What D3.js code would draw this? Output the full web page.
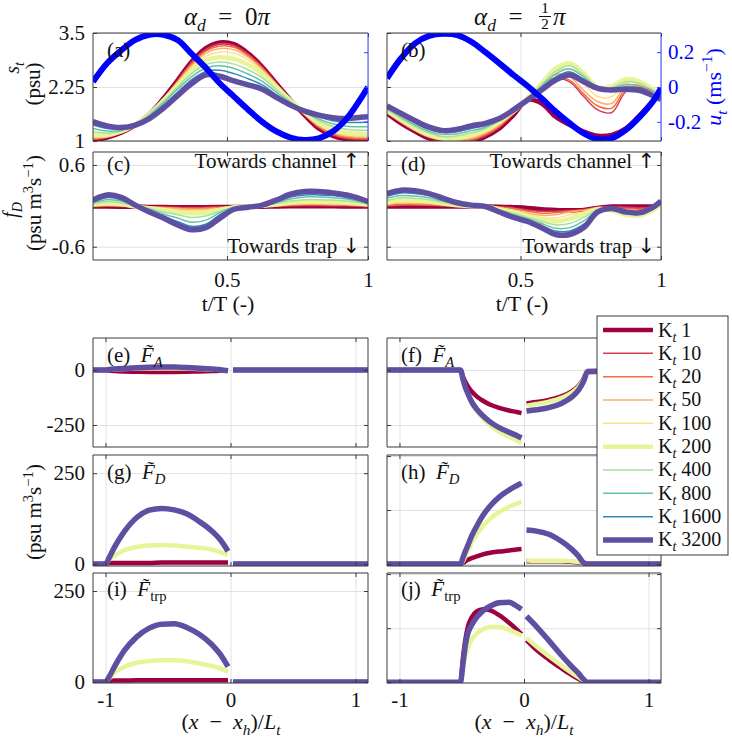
<!DOCTYPE html>
<html><head><meta charset="utf-8">
<script src="https://cdn.jsdelivr.net/npm/d3@7"></script>
<style>body{margin:0;background:#fff;} svg{display:block;}</style>
</head><body>
<svg id="chart" width="732" height="740"></svg>
<script>
// ---------------- DATA ----------------
const tGrid = [0.025,0.075,0.125,0.175,0.225,0.275,0.325,0.375,0.425,0.475,0.525,0.575,0.625,0.675,0.725,0.775,0.825,0.875,0.925,0.975,1.0];
const kLabels = ["1","10","20","50","100","200","400","800","1600","3200"];
const kColors = ["#9e0142","#d53e4f","#f46d43","#fdae61","#fee08b","#e6f598","#abdda4","#66c2a5","#3288bd","#5e4fa2"];
const kWidths = [4.5,1.5,1.5,1.5,1.5,4.5,1.5,1.5,1.5,5.5];

// u_t (m/s), right axis of (a) and (b)
const uA = [0.03,0.136,0.21,0.27,0.30,0.30,0.27,0.19,0.11,0.02,-0.055,-0.13,-0.20,-0.255,-0.29,-0.304,-0.295,-0.256,-0.18,-0.065,0.0];
const uB = [0.05,0.165,0.251,0.293,0.305,0.298,0.26,0.20,0.136,0.069,0.006,-0.065,-0.141,-0.208,-0.266,-0.30,-0.294,-0.246,-0.17,-0.074,-0.007];

// s_t (psu), panel (a)
const sA_K1    = [1.02,1.08,1.19,1.37,1.62,1.99,2.41,2.84,3.15,3.28,3.24,3.03,2.72,2.33,1.95,1.60,1.29,1.12,1.04,1.02,1.02];
const sA_K10   = [1.03,1.08,1.19,1.37,1.62,1.98,2.40,2.82,3.12,3.25,3.21,3.01,2.71,2.33,1.95,1.61,1.31,1.14,1.06,1.04,1.04];
const sA_K20   = [1.05,1.09,1.20,1.37,1.62,1.97,2.38,2.79,3.08,3.20,3.17,2.98,2.69,2.32,1.95,1.62,1.33,1.16,1.08,1.06,1.06];
const sA_K50   = [1.07,1.10,1.20,1.38,1.62,1.96,2.36,2.75,3.03,3.14,3.11,2.94,2.66,2.31,1.95,1.63,1.35,1.19,1.11,1.09,1.09];
const sA_K100  = [1.10,1.12,1.21,1.38,1.62,1.95,2.33,2.70,2.96,3.06,3.03,2.88,2.62,2.29,1.95,1.64,1.38,1.22,1.14,1.12,1.12];
const sA_K200  = [1.14,1.14,1.22,1.38,1.62,1.94,2.29,2.63,2.87,2.94,2.90,2.77,2.55,2.25,1.94,1.66,1.42,1.27,1.19,1.17,1.17];
const sA_K400  = [1.22,1.18,1.23,1.38,1.62,1.92,2.25,2.56,2.77,2.83,2.78,2.65,2.46,2.19,1.92,1.68,1.47,1.34,1.27,1.25,1.25];
const sA_K800  = [1.29,1.23,1.25,1.37,1.59,1.88,2.20,2.49,2.69,2.74,2.68,2.55,2.38,2.13,1.89,1.68,1.51,1.40,1.34,1.33,1.33];
const sA_K1600 = [1.37,1.29,1.28,1.37,1.56,1.83,2.13,2.42,2.61,2.64,2.56,2.44,2.30,2.07,1.86,1.69,1.56,1.47,1.43,1.43,1.44];
const sA_K3200 = [1.45,1.35,1.31,1.37,1.52,1.76,2.05,2.33,2.53,2.50,2.39,2.30,2.20,2.01,1.83,1.69,1.60,1.54,1.52,1.55,1.56];

// s_t (psu), panel (b)
const sB_K1    = [1.64,1.41,1.22,1.06,0.98,0.96,0.98,1.10,1.29,1.60,1.95,1.87,1.56,1.37,1.22,1.12,1.14,1.29,1.60,1.95,2.10];
const sB_K10   = [1.65,1.42,1.23,1.08,1.00,0.98,1.01,1.12,1.32,1.63,1.96,2.24,2.44,2.37,2.03,1.72,1.66,2.14,2.24,2.14,2.09];
const sB_K20   = [1.66,1.44,1.25,1.09,1.02,1.00,1.03,1.15,1.34,1.64,1.97,2.26,2.47,2.41,2.09,1.81,1.76,2.20,2.27,2.15,2.09];
const sB_K50   = [1.68,1.46,1.26,1.11,1.03,1.02,1.06,1.18,1.37,1.66,1.98,2.28,2.54,2.49,2.17,1.91,1.87,2.27,2.30,2.17,2.08];
const sB_K100  = [1.69,1.47,1.28,1.12,1.05,1.04,1.10,1.22,1.41,1.67,1.99,2.31,2.61,2.64,2.33,2.03,2.03,2.35,2.33,2.17,2.07];
const sB_K200  = [1.70,1.49,1.29,1.14,1.06,1.06,1.14,1.25,1.45,1.68,1.99,2.33,2.68,2.80,2.57,2.24,2.27,2.43,2.37,2.18,2.06];
const sB_K400  = [1.73,1.52,1.33,1.19,1.10,1.12,1.19,1.29,1.47,1.69,1.98,2.30,2.61,2.74,2.53,2.24,2.24,2.37,2.33,2.15,2.04];
const sB_K800  = [1.75,1.56,1.37,1.22,1.15,1.17,1.24,1.32,1.49,1.69,1.97,2.27,2.55,2.67,2.48,2.23,2.22,2.31,2.27,2.15,2.01];
const sB_K1600 = [1.78,1.60,1.42,1.27,1.20,1.22,1.29,1.36,1.50,1.71,1.96,2.23,2.48,2.60,2.43,2.23,2.20,2.25,2.22,2.07,1.99];
const sB_K3200 = [1.81,1.64,1.47,1.32,1.24,1.27,1.35,1.41,1.52,1.72,1.95,2.18,2.41,2.53,2.37,2.22,2.18,2.20,2.17,2.04,1.96];

// f_D, panel (c)
const fC_K1    = [-0.01,-0.01,-0.012,-0.014,-0.016,-0.018,-0.02,-0.02,-0.02,-0.018,-0.016,-0.014,-0.012,-0.01,-0.008,-0.006,-0.006,-0.008,-0.01,-0.01,-0.01];
const fC_K10   = [-0.01,-0.005,-0.01,-0.012,-0.015,-0.018,-0.022,-0.025,-0.022,-0.018,-0.014,-0.01,-0.008,-0.005,0.0,0.005,0.005,0.0,0.0,-0.005,-0.01];
const fC_K20   = [-0.005,0.0,-0.005,-0.01,-0.015,-0.02,-0.03,-0.035,-0.03,-0.02,-0.015,-0.01,-0.005,0.0,0.01,0.015,0.015,0.01,0.01,0.0,-0.005];
const fC_K50   = [0.0,0.01,0.0,-0.01,-0.02,-0.03,-0.04,-0.05,-0.045,-0.03,-0.015,-0.01,-0.005,0.005,0.02,0.025,0.025,0.02,0.02,0.01,0.0];
const fC_K100  = [0.01,0.02,0.01,-0.01,-0.025,-0.04,-0.06,-0.07,-0.065,-0.04,-0.02,-0.01,0.0,0.01,0.03,0.04,0.04,0.035,0.03,0.02,0.01];
const fC_K200  = [0.02,0.035,0.025,-0.01,-0.035,-0.06,-0.09,-0.11,-0.10,-0.06,-0.02,-0.01,0.0,0.02,0.045,0.06,0.06,0.055,0.045,0.03,0.02];
const fC_K400  = [0.03,0.06,0.045,-0.005,-0.04,-0.09,-0.13,-0.17,-0.15,-0.08,-0.02,-0.01,0.0,0.035,0.07,0.09,0.09,0.085,0.07,0.045,0.03];
const fC_K800  = [0.045,0.09,0.07,0.0,-0.05,-0.12,-0.18,-0.24,-0.21,-0.10,-0.025,-0.01,0.0,0.05,0.10,0.13,0.13,0.12,0.10,0.06,0.04];
const fC_K1600 = [0.06,0.12,0.09,0.0,-0.07,-0.15,-0.23,-0.30,-0.27,-0.13,-0.03,-0.015,0.005,0.065,0.13,0.16,0.16,0.15,0.12,0.08,0.05];
const fC_K3200 = [0.085,0.16,0.125,0.01,-0.09,-0.18,-0.28,-0.35,-0.32,-0.18,-0.05,-0.02,0.01,0.085,0.17,0.21,0.21,0.19,0.16,0.10,0.06];

// f_D, panel (d)
const fD_K1    = [-0.01,-0.01,-0.01,-0.01,-0.01,-0.01,-0.01,-0.01,-0.012,-0.02,-0.03,-0.05,-0.06,-0.065,-0.06,-0.03,-0.01,-0.01,-0.01,-0.005,0.03];
const fD_K10   = [0.0,0.01,0.01,0.005,0.0,-0.01,-0.01,-0.01,-0.015,-0.03,-0.06,-0.08,-0.08,-0.07,-0.055,-0.02,-0.015,-0.02,-0.03,-0.01,0.03];
const fD_K20   = [0.005,0.02,0.02,0.015,0.005,-0.005,-0.01,-0.01,-0.02,-0.04,-0.08,-0.11,-0.10,-0.075,-0.06,-0.025,-0.02,-0.04,-0.05,-0.02,0.03];
const fD_K50   = [0.015,0.04,0.035,0.03,0.015,0.0,-0.01,-0.01,-0.03,-0.06,-0.11,-0.14,-0.13,-0.09,-0.07,-0.03,-0.04,-0.08,-0.09,-0.03,0.03];
const fD_K100  = [0.03,0.06,0.055,0.045,0.025,0.005,-0.01,-0.01,-0.04,-0.08,-0.13,-0.17,-0.18,-0.13,-0.09,-0.04,-0.06,-0.11,-0.12,-0.04,0.03];
const fD_K200  = [0.05,0.085,0.08,0.065,0.035,0.01,-0.005,-0.01,-0.05,-0.09,-0.15,-0.20,-0.23,-0.19,-0.12,-0.05,-0.07,-0.13,-0.14,-0.05,0.03];
const fD_K400  = [0.08,0.12,0.11,0.09,0.05,0.015,-0.005,-0.01,-0.06,-0.11,-0.17,-0.23,-0.28,-0.26,-0.17,-0.06,-0.06,-0.12,-0.13,-0.04,0.04];
const fD_K800  = [0.11,0.15,0.145,0.12,0.07,0.025,0.0,-0.01,-0.07,-0.13,-0.19,-0.26,-0.33,-0.32,-0.22,-0.07,-0.06,-0.11,-0.12,-0.03,0.05];
const fD_K1600 = [0.14,0.19,0.18,0.15,0.09,0.035,0.005,-0.01,-0.08,-0.15,-0.21,-0.29,-0.37,-0.37,-0.27,-0.08,-0.05,-0.10,-0.11,-0.02,0.06];
const fD_K3200 = [0.18,0.23,0.22,0.18,0.11,0.045,0.01,-0.01,-0.09,-0.17,-0.23,-0.32,-0.42,-0.42,-0.32,-0.09,-0.04,-0.09,-0.10,-0.01,0.07];

// spatial panels: x = (x - x_h)/L_t ; null marks the gap at x = 0
const xLeft  = [-1.1,-1.0,-0.97,-0.93,-0.85,-0.75,-0.65,-0.55,-0.45,-0.35,-0.25,-0.15,-0.08,-0.02,null,0.02,1.1];
const xRight = [-1.1,-0.51,-0.49,-0.47,-0.45,-0.42,-0.38,-0.33,-0.27,-0.2,-0.12,-0.06,-0.02,null,0.02,0.1,0.2,0.3,0.38,0.44,0.48,0.51,1.1];

const eK1    = [0,0,-3,-5,-7,-8,-9,-9,-9,-8,-7,-5,-4,-3,null,0,0];
const eK200  = [0,0,1,2,4,6,7,7,7,6,4,2,0,-3,null,0,0];
const eK3200 = [0,0,2,4,7,10,12,13,13,11,8,4,1,-4,null,0,0];
const gK1    = [0,0,3,3,3,3,3,4,4,4,4,4,4,4,null,0,0];
const gK200  = [0,0,12,22,38,47,51,52,51,48,45,40,33,25,null,0,0];
const gK3200 = [0,0,18,45,89,128,148,153,149,138,117,91,66,35,null,0,0];
const iK1    = [0,0,3,4,4,5,5,5,5,5,5,5,5,5,null,0,0];
const iK200  = [0,0,10,25,42,53,58,60,60,57,51,44,37,28,null,0,0];
const iK3200 = [0,0,15,41,86,124,148,159,160,150,131,103,75,42,null,0,0];

const fK1    = [0,0,-30,-55,-75,-98,-120,-140,-158,-172,-184,-191,-196,null,-152,-146,-136,-120,-98,-70,-38,-5,0];
const fK200  = [0,0,-42,-82,-112,-150,-186,-220,-252,-280,-303,-320,-332,null,-162,-155,-144,-127,-104,-75,-42,-6,0];
const fK3200 = [0,0,-42,-80,-108,-145,-178,-208,-237,-262,-283,-298,-309,null,-187,-181,-171,-152,-125,-90,-50,-8,0];
const hK1    = [0,0,2,5,8,11,14,18,21,23,25,27,28,null,5,5,5,5,4,3,2,0,0];
const hK200  = [0,0,5,15,25,40,55,70,84,96,106,112,115,null,7,6,6,6,5,4,2,0,0];
const hK3200 = [0,0,12,24,35,52,70,90,108,124,137,145,150,null,63,61,55,42,28,14,2,0,0];
const jK1    = [0,0,45,80,103,120,131,135,133,124,110,98,89,null,78,60,42,26,14,6,1,0,0];
const jK200  = [0,0,25,50,65,79,90,98,102,102,97,91,86,null,82,66,48,31,18,9,3,0,0];
const jK3200 = [0,0,35,70,91,106,120,132,141,147,148,141,135,null,122,103,77,50,30,16,5,0,0];

// tick values
const tTicks = [0.5, 1];
const xTicksB = [-1, 0, 1];
const sTicks = [1, 2.25, 3.5];
const uTicks = [-0.2, 0, 0.2];
const fTicks = [-0.6, 0.6];
const faTicks = [-250, 0];
const fdTicks = [0, 250];
const fhTicks = [0, 100, 200];

// ---------------- DRAW ----------------
const FONT = "'Liberation Serif','Times New Roman',serif";
const FS = 21;
const svg = d3.select("#chart");
svg.append("rect").attr("width",732).attr("height",740).attr("fill","#fff");
const defs = svg.append("defs");
const FRAME = "#3a3a3a", GRID = "#e1e1e1", BLUE = "#0000ff";

function rich(parent, x, y, parts, o = {}) {
  const size = o.size || FS;
  const t = parent.append("text").attr("x", x).attr("y", y)
    .attr("font-family", FONT).attr("font-size", size)
    .attr("text-anchor", o.anchor || "start").attr("fill", o.fill || "#111")
    .style("white-space", "pre");
  if (o.rotate) t.attr("transform", `rotate(${o.rotate},${x},${y})`);
  let shift = 0;
  parts.forEach(p => {
    if (typeof p === "string") p = {t: p};
    const s = t.append("tspan").text(p.t);
    const target = p.sub ? size * 0.25 : p.sup ? -size * 0.4 : 0;
    if (p.it) s.attr("font-style", "italic");
    if (p.font) s.attr("font-family", p.font);
    if (p.sub || p.sup) s.attr("font-size", size * 0.7);
    if (target !== shift) { s.attr("dy", target - shift); shift = target; }
  });
  return t;
}

function panel(cfg) {
  const {id, box, xDom, yDom, xTicks, yTicks} = cfg;
  const xs = d3.scaleLinear().domain(xDom).range([box.x0, box.x1]);
  const ys = d3.scaleLinear().domain(yDom).range([box.y1, box.y0]);
  const w = box.x1 - box.x0, h = box.y1 - box.y0;
  const grid = svg.append("g");
  grid.append("g").attr("transform", `translate(0,${box.y1})`)
    .call(d3.axisBottom(xs).tickValues(xTicks).tickSize(-h).tickFormat(""));
  grid.append("g").attr("transform", `translate(${box.x0},0)`)
    .call(d3.axisLeft(ys).tickValues(yTicks).tickSize(-w).tickFormat(""));
  grid.selectAll(".domain").remove();
  grid.selectAll("line").attr("stroke", GRID).attr("stroke-width", 1);
  defs.append("clipPath").attr("id", "clip-" + id).append("rect")
    .attr("x", box.x0).attr("y", box.y0).attr("width", w).attr("height", h);
  const data = svg.append("g").attr("clip-path", `url(#clip-${id})`);
  const frame = svg.append("g");
  const style = (g, col) => {
    g.attr("font-family", FONT).attr("font-size", FS);
    g.select(".domain").remove();
    g.selectAll("line").attr("stroke", col || FRAME);
    g.selectAll("text").attr("fill", "#111");
  };
  frame.append("g").attr("transform", `translate(${box.x0},0)`)
    .call(d3.axisLeft(ys).tickValues(yTicks).tickSize(-4).tickPadding(8)
      .tickFormat(cfg.yLabels ? (d => String(d)) : "")).call(style);
  if (!cfg.blueRight) {
    frame.append("g").attr("transform", `translate(${box.x1},0)`)
      .call(d3.axisRight(ys).tickValues(yTicks).tickSize(-4).tickFormat("")).call(style);
  }
  frame.append("g").attr("transform", `translate(0,${box.y1})`)
    .call(d3.axisBottom(xs).tickValues(xTicks).tickSize(-4).tickPadding(cfg.xPad || 10)
      .tickFormat(cfg.xLabels ? (d => String(d)) : "")).call(style);
  frame.append("g").attr("transform", `translate(0,${box.y0})`)
    .call(d3.axisTop(xs).tickValues(xTicks).tickSize(-4).tickFormat("")).call(style);
  frame.append("path")
    .attr("d", `M${box.x1},${box.y1}H${box.x0}V${box.y0}H${box.x1}`)
    .attr("fill", "none").attr("stroke", FRAME).attr("stroke-width", 1);
  frame.append("line").attr("x1", box.x1).attr("x2", box.x1).attr("y1", box.y0).attr("y2", box.y1)
    .attr("stroke", cfg.blueRight ? "#3344ff" : FRAME).attr("stroke-width", 1);
  return {xs, ys, data, frame, box};
}

function addBlueAxis(p, labels) {
  const us = d3.scaleLinear().domain([-0.31, 0.31]).range([p.box.y1, p.box.y0]);
  const g = p.frame.append("g").attr("transform", `translate(${p.box.x1},0)`)
    .call(d3.axisRight(us).tickValues(uTicks).tickSize(-4).tickPadding(7)
      .tickFormat(labels ? (d => String(d)) : ""));
  g.attr("font-family", FONT).attr("font-size", FS);
  g.select(".domain").remove();
  g.selectAll("line").attr("stroke", "#3344ff");
  g.selectAll("text").attr("fill", BLUE);
  return us;
}

function drawTime(p, seriesList) {
  seriesList.forEach((arr, k) => {
    const line = d3.line().x((d, i) => p.xs(tGrid[i])).y(d => p.ys(d)).curve(d3.curveCatmullRom.alpha(0.5));
    p.data.append("path").attr("d", line(arr)).attr("fill", "none")
      .attr("stroke", kColors[k]).attr("stroke-width", kWidths[k])
      .attr("stroke-linejoin", "round");
  });
}
function drawU(p, us, arr) {
  const line = d3.line().x((d, i) => p.xs(tGrid[i])).y(d => us(d)).curve(d3.curveCatmullRom.alpha(0.5));
  p.data.append("path").attr("d", line(arr)).attr("fill", "none")
    .attr("stroke", BLUE).attr("stroke-width", 6);
}
function drawSpace(p, xArr, list) {
  list.forEach(([arr, k]) => {
    const pts = arr.map((v, i) => [xArr[i], v]);
    const line = d3.line().defined(d => d[0] != null && d[1] != null)
      .x(d => p.xs(d[0])).y(d => p.ys(d[1])).curve(d3.curveMonotoneX);
    p.data.append("path").attr("d", line(pts)).attr("fill", "none")
      .attr("stroke", kColors[k]).attr("stroke-width", kWidths[k])
      .attr("stroke-linejoin", "round");
  });
}

const L = {x0: 93, x1: 368}, R = {x0: 387, x1: 661};
const B = (c, y0, y1) => ({x0: c.x0, x1: c.x1, y0, y1});

// top panels
const pa = panel({id:"a", box:B(L,33,141), xDom:[0.025,1], yDom:[1,3.5], xTicks:tTicks, yTicks:sTicks, yLabels:true, blueRight:true});
const pb = panel({id:"b", box:B(R,33,141), xDom:[0.025,1], yDom:[1,3.5], xTicks:tTicks, yTicks:sTicks, blueRight:true});
const pc = panel({id:"c", box:B(L,152,260), xDom:[0.025,1], yDom:[-0.795,0.79], xTicks:tTicks, yTicks:fTicks, yLabels:true, xLabels:true, xPad:12});
const pd = panel({id:"d", box:B(R,152,260), xDom:[0.025,1], yDom:[-0.795,0.79], xTicks:tTicks, yTicks:fTicks, xLabels:true, xPad:12});

drawTime(pa, [sA_K1,sA_K10,sA_K20,sA_K50,sA_K100,sA_K200,sA_K400,sA_K800,sA_K1600,sA_K3200]);
drawTime(pb, [sB_K1,sB_K10,sB_K20,sB_K50,sB_K100,sB_K200,sB_K400,sB_K800,sB_K1600,sB_K3200]);
drawTime(pc, [fC_K1,fC_K10,fC_K20,fC_K50,fC_K100,fC_K200,fC_K400,fC_K800,fC_K1600,fC_K3200]);
drawTime(pd, [fD_K1,fD_K10,fD_K20,fD_K50,fD_K100,fD_K200,fD_K400,fD_K800,fD_K1600,fD_K3200]);
const usA = addBlueAxis(pa, false);
const usB = addBlueAxis(pb, true);
drawU(pa, usA, uA);
drawU(pb, usB, uB);

// bottom panels
const pe = panel({id:"e", box:B(L,338,447), xDom:[-1.1,1.1], yDom:[-350,145], xTicks:xTicksB, yTicks:faTicks, yLabels:true});
const pf = panel({id:"f", box:B(R,338,447), xDom:[-1.1,1.1], yDom:[-350,145], xTicks:xTicksB, yTicks:faTicks});
const pg = panel({id:"g", box:B(L,455,566), xDom:[-1.1,1.1], yDom:[-5.5,300], xTicks:xTicksB, yTicks:fdTicks, yLabels:true});
const ph = panel({id:"h", box:B(R,455,566), xDom:[-1.1,1.1], yDom:[-3.7,202], xTicks:xTicksB, yTicks:fhTicks});
const pi = panel({id:"i", box:B(L,573,683), xDom:[-1.1,1.1], yDom:[-2.7,299.5], xTicks:xTicksB, yTicks:fdTicks, yLabels:true, xLabels:true, xPad:9});
const pj = panel({id:"j", box:B(R,573,683), xDom:[-1.1,1.1], yDom:[-1.3,202], xTicks:xTicksB, yTicks:fhTicks, xLabels:true, xPad:9});

drawSpace(pe, xLeft, [[eK1,0],[eK200,5],[eK3200,9]]);
drawSpace(pg, xLeft, [[gK1,0],[gK200,5],[gK3200,9]]);
drawSpace(pi, xLeft, [[iK1,0],[iK200,5],[iK3200,9]]);
drawSpace(pf, xRight, [[fK1,0],[fK200,5],[fK3200,9]]);
drawSpace(ph, xRight, [[hK1,0],[hK200,5],[hK3200,9]]);
drawSpace(pj, xRight, [[jK1,0],[jK200,5],[jK3200,9]]);

// ---------------- TEXT ----------------
const T = svg.append("g");
const EQ = "\u2002=\u2002";
rich(T, 227, 25, [{t:"α",it:true},{t:"d",it:true,sub:true},{t:EQ+"0"},{t:"π",it:true}], {size:25, anchor:"middle"});
rich(T, 535, 25, [{t:"α",it:true},{t:"d",it:true,sub:true},{t:EQ}], {size:25, anchor:"end"});
T.append("text").attr("x",545).attr("y",13).attr("text-anchor","middle").attr("font-family",FONT).attr("font-size",15).text("1");
T.append("line").attr("x1",539).attr("x2",551).attr("y1",16.5).attr("y2",16.5).attr("stroke","#111").attr("stroke-width",1);
T.append("text").attr("x",545).attr("y",29).attr("text-anchor","middle").attr("font-family",FONT).attr("font-size",15).text("2");
rich(T, 553, 25, [{t:"π",it:true}], {size:25});

// panel labels
const ARW = "'DejaVu Sans',sans-serif";
rich(T, 107, 57, ["(a)"]);
rich(T, 401, 57, ["(b)"]);
rich(T, 107, 171, ["(c)"]);
rich(T, 401, 171, ["(d)"]);
rich(T, 360, 168, ["Towards channel ", {t:"↑", font:ARW}], {anchor:"end"});
rich(T, 360, 253, ["Towards trap ", {t:"↓", font:ARW}], {anchor:"end"});
rich(T, 655, 168, ["Towards channel ", {t:"↑", font:ARW}], {anchor:"end"});
rich(T, 655, 253, ["Towards trap ", {t:"↓", font:ARW}], {anchor:"end"});
rich(T, 107, 362, ["(e)  ", {t:"F\u0303",it:true}, {t:"A",it:true,sub:true}]);
rich(T, 401, 362, ["(f)  ", {t:"F\u0303",it:true}, {t:"A",it:true,sub:true}]);
rich(T, 107, 479, ["(g)  ", {t:"F\u0303",it:true}, {t:"D",it:true,sub:true}]);
rich(T, 401, 479, ["(h)  ", {t:"F\u0303",it:true}, {t:"D",it:true,sub:true}]);
rich(T, 107, 596, ["(i)  ", {t:"F\u0303",it:true}, {t:"trp",sub:true}]);
rich(T, 401, 596, ["(j)  ", {t:"F\u0303",it:true}, {t:"trp",sub:true}]);

// axis titles
rich(T, 19, 68, [{t:"s",it:true},{t:"t",it:true,sub:true}], {rotate:-90, anchor:"middle", size:20});
rich(T, 40, 84, ["(psu)"], {rotate:-90, anchor:"middle", size:21});
rich(T, 17, 210, [{t:"f",it:true},{t:"D",it:true,sub:true}], {rotate:-90, anchor:"middle", size:20});
rich(T, 41, 203, ["(psu m", {t:"3",sup:true}, "s", {t:"−1",sup:true}, ")"], {rotate:-90, anchor:"middle", size:21});
rich(T, 41, 512, ["(psu m", {t:"3",sup:true}, "s", {t:"−1",sup:true}, ")"], {rotate:-90, anchor:"middle", size:21});
rich(T, 721, 87, [{t:"u",it:true},{t:"t",it:true,sub:true}," (ms",{t:"−1",sup:true},")"], {rotate:-90, anchor:"middle", size:22, fill:BLUE});
rich(T, 228, 311, ["t/T (-)"], {anchor:"middle", size:22});
rich(T, 522, 311, ["t/T (-)"], {anchor:"middle", size:22});
const xlab = ["(", {t:"x",it:true}, "\u2002−\u2002", {t:"x",it:true}, {t:"h",it:true,sub:true}, ")/", {t:"L",it:true}, {t:"t",it:true,sub:true}];
rich(T, 231, 729, xlab, {anchor:"middle", size:22});
rich(T, 524, 729, xlab, {anchor:"middle", size:22});

// ---------------- LEGEND ----------------
const lg = svg.append("g");
lg.append("rect").attr("x",597).attr("y",316).attr("width",131).attr("height",239)
  .attr("fill","#fff").attr("stroke",FRAME).attr("stroke-width",1);
kLabels.forEach((lab, i) => {
  const y = 330 + i * 23.33;
  lg.append("line").attr("x1",603).attr("x2",653).attr("y1",y).attr("y2",y)
    .attr("stroke",kColors[i]).attr("stroke-width",kWidths[i]);
  rich(lg, 658, y + 6.5, ["K", {t:"t",it:true,sub:true}, " " + lab], {size:20});
});
</script></body></html>
